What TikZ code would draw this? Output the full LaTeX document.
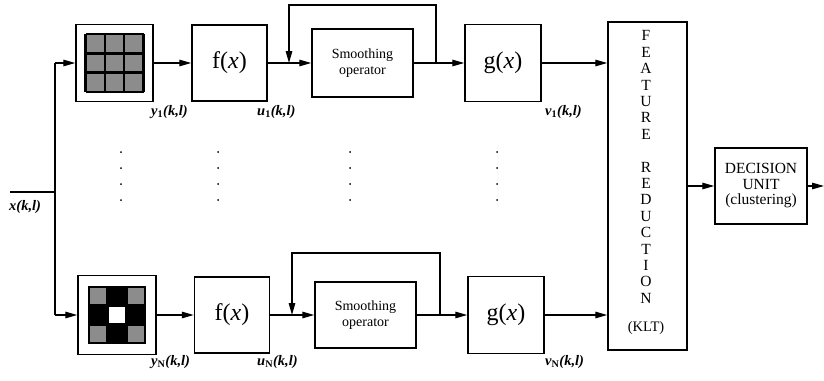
\documentclass[tikz,border=0pt]{standalone}
\usepackage{fontspec}
\setmainfont{Liberation Serif}
\usetikzlibrary{arrows.meta,calc}
\begin{document}
\begin{tikzpicture}[x=1pt,y=-1pt,
  box/.style={draw,line width=1.5pt,inner sep=0pt},
  conn/.style={line width=1.4pt},
  arr/.style={conn,-{Triangle[length=12pt,width=6.5pt]}},
  func/.style={font=\fontsize{24}{26}\selectfont},
  smooth/.style={font=\fontsize{14}{15.5}\selectfont,align=center},
  lbl/.style={font=\fontsize{14.5}{15}\selectfont\bfseries\itshape,inner sep=0pt,anchor=west},
  cell/.style={line width=2.4pt}]
\useasboundingbox (0,0) rectangle (824,380);

% ---- upper channel ----
\node[box,minimum width=77pt,minimum height=77pt] (filt1) at (114.5,63) {};
\node[box,func,minimum width=75pt,minimum height=76pt] (f1) at (229.5,63) {f(\textit{x})};
\node[box,smooth,minimum width=101pt,minimum height=68pt] (s1) at (362.5,63) {Smoothing\\operator};
\node[box,func,minimum width=76pt,minimum height=77pt] (g1) at (503,63) {g(\textit{x})};

% ---- lower channel ----
\node[box,minimum width=78pt,minimum height=79pt] (filt2) at (117,315) {};
\node[box,func,minimum width=75pt,minimum height=76pt] (f2) at (232,315) {f(\textit{x})};
\node[box,smooth,minimum width=101pt,minimum height=66pt] (s2) at (365.5,315) {Smoothing\\operator};
\node[box,func,minimum width=76pt,minimum height=77pt] (g2) at (506,315) {g(\textit{x})};

% ---- feature reduction and decision ----
\node[box,minimum width=79pt,minimum height=328pt] (feat) at (647.5,186) {};
\node[font=\fontsize{15.5}{16.4}\selectfont,align=center,inner sep=0pt] (feattext) at (646,167)
  {F\\E\\A\\T\\U\\R\\E\\[16.4pt]R\\E\\D\\U\\C\\T\\I\\O\\N};
\node[font=\fontsize{14.5}{15}\selectfont,inner sep=0pt] (klt) at (646,328) {(KLT)};
\node[box,font=\fontsize{15.5}{15.5}\selectfont,align=center,minimum width=92pt,minimum height=76pt] (dec) at (761,186)
  {DECISION\\UNIT\\(clustering)};

% ---- filter masks ----
\begin{scope}[shift={(filt1.center)}]
  \fill[black!45] (-29,-29) rectangle (29,29);
  \foreach \p in {-29,-9.67,9.67,29} {
    \draw[cell] (\p,-29) -- (\p,29);
    \draw[cell] (-29,\p) -- (29,\p);
  }
\end{scope}
\begin{scope}[shift={(filt2.center)}]
  \fill[black] (-29,-29) rectangle (29,29);
  \fill[black!45] (-27,-27) rectangle (-11,-11);
  \fill[black!45] (11,-27) rectangle (27,-11);
  \fill[black!45] (-27,11) rectangle (-11,27);
  \fill[black!45] (11,11) rectangle (27,27);
  \fill[white] (-8,-8) rectangle (8,8);
\end{scope}

% ---- input and branching ----
\coordinate (xin) at (10,192);
\coordinate (split) at (55,192);
\coordinate (br1) at (55,63);
\coordinate (br2) at (55,315);
\draw[conn] (xin) -- (split);
\draw[conn] (br1) -- (br2);
\draw[arr] (br1) -- (filt1.west);
\draw[arr] (br2) -- (filt2.west);

% ---- chains ----
\draw[arr] (filt1) -- (f1);
\draw[arr] (f1) -- (s1);
\draw[arr] (s1) -- (g1);
\draw[arr] (g1.east) -- (g1.east -| feat.west);
\draw[arr] (filt2) -- (f2);
\draw[arr] (f2) -- (s2);
\draw[arr] (s2) -- (g2);
\draw[arr] (g2.east) -- (g2.east -| feat.west);

% ---- feedback loops around the smoothing operators ----
\coordinate (fbin1) at (289,63);
\coordinate (fbout1) at (436,63);
\draw[arr] (fbout1) -- ++(0,-58) -| (fbin1);
\coordinate (fbin2) at (292,315);
\coordinate (fbout2) at (440,315);
\draw[arr] (fbout2) -- ++(0,-62) -| (fbin2);

% ---- output ----
\coordinate (out) at (824,186);
\draw[arr] (feat) -- (dec);
\draw[arr] (dec) -- (out);

% ---- signal labels ----
\node[lbl] (lx) at (9,207) {x(k,l)};
\node[lbl] (ly1) at (151,112) {y\textsubscript{\upshape 1}(k,l)};
\node[lbl] (lu1) at (257,112) {u\textsubscript{\upshape 1}(k,l)};
\node[lbl] (lv1) at (545,112) {v\textsubscript{\upshape 1}(k,l)};
\node[lbl] (lyN) at (151,362) {y\textsubscript{\upshape N}(k,l)};
\node[lbl] (luN) at (257,362) {u\textsubscript{\upshape N}(k,l)};
\node[lbl] (lvN) at (545,362) {v\textsubscript{\upshape N}(k,l)};

% ---- ellipsis dots between the channels ----
\foreach \cx in {121,218,350,497} {
  \foreach \cy in {152,168,184,200} {
    \fill (\cx,\cy) circle (1pt);
  }
}
\end{tikzpicture}
\end{document}
